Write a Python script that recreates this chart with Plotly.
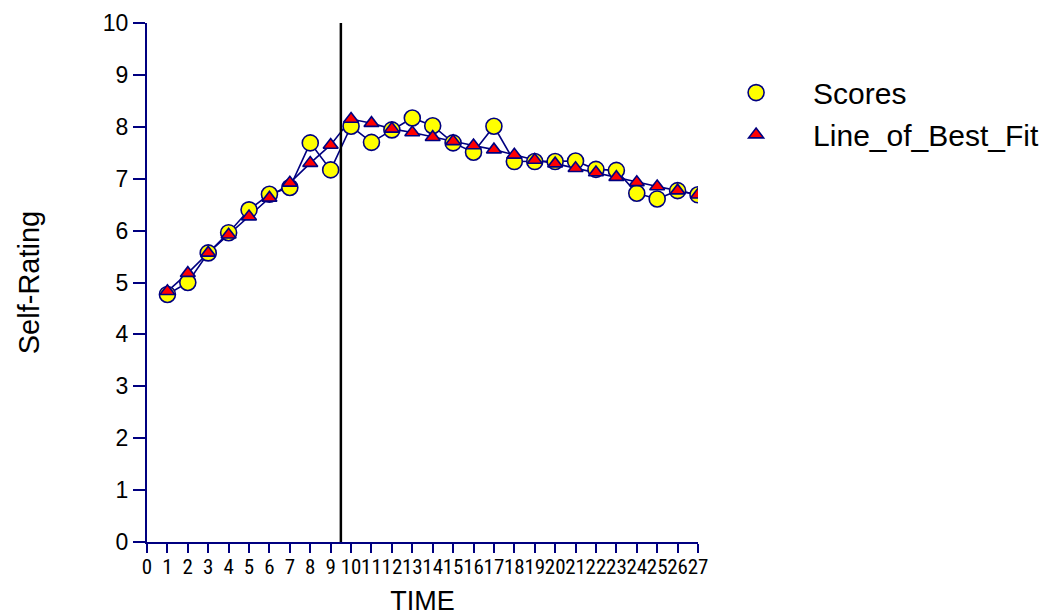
import plotly.graph_objects as go

# Session number and observed self-ratings
time_points = list(range(1, 28))
scores = [4.77, 5.00, 5.57, 5.96, 6.40, 6.70, 6.83, 7.69, 7.17,
          8.01, 7.70, 7.94, 8.17, 8.02, 7.69, 7.51, 8.01, 7.33,
          7.33, 7.33, 7.34, 7.18, 7.16, 6.72, 6.61, 6.77, 6.69]
# Piecewise fitted trend (baseline / intervention)
best_fit = [4.83, 5.18, 5.57, 5.92, 6.27, 6.63, 6.92, 7.30, 7.65,
            8.15, 8.07, 7.96, 7.89, 7.80, 7.72, 7.64, 7.56, 7.46,
            7.36, 7.29, 7.20, 7.12, 7.03, 6.93, 6.85, 6.77, 6.69]
phase_change = 9.5
x_ticks = list(range(0, 28))
y_ticks = list(range(0, 11))

NAVY = "#000080"
FONT = "Arial, Liberation Sans, sans-serif"
NARROW = "Liberation Sans Narrow, Arial Narrow, Roboto Condensed, Arial, sans-serif"

fig = go.Figure()
# Connecting lines (kept out of the legend)
for series in (scores, best_fit):
    fig.add_trace(go.Scatter(
        x=time_points, y=series, mode="lines", showlegend=False,
        hoverinfo="skip", line=dict(color=NAVY, width=1.6),
    ))
# Markers
fig.add_trace(go.Scatter(
    x=time_points, y=scores, name="Scores", mode="markers",
    marker=dict(symbol="circle", size=16, color="#FFFF00",
                line=dict(color=NAVY, width=1.6)),
))
fig.add_trace(go.Scatter(
    x=time_points, y=best_fit, name="Line_of_Best_Fit", mode="markers",
    marker=dict(symbol="triangle-up", size=13, color="#FF0000",
                line=dict(color=NAVY, width=1.6)),
))

# Phase-change line
fig.add_shape(type="line", xref="x", yref="y",
              x0=phase_change, x1=phase_change, y0=0, y1=10,
              line=dict(color="black", width=2.5))

fig.update_layout(
    width=1058, height=616,
    margin=dict(l=147, r=360, t=23, b=74, autoexpand=False),
    paper_bgcolor="white", plot_bgcolor="white",
    font=dict(family=FONT, color="black"),
    showlegend=True,
    legend=dict(x=1.002, y=0.916, xanchor="left", yanchor="top",
                font=dict(size=30, family=FONT), itemwidth=104,
                bgcolor="rgba(0,0,0,0)", tracegroupgap=0),
    xaxis=dict(
        range=[0, 27], tickvals=x_ticks, ticktext=[str(v) for v in x_ticks],
        tickangle=0, tickfont=dict(size=21, family=NARROW), automargin=False,
        ticklabelstandoff=-4,
        showgrid=False, zeroline=False,
        showline=True, linecolor=NAVY, linewidth=2,
        ticks="outside", ticklen=9, tickwidth=2, tickcolor=NAVY,
        title=dict(text="TIME", font=dict(size=27), standoff=22),
    ),
    yaxis=dict(
        range=[0, 10], tickvals=y_ticks, automargin=False,
        tickfont=dict(size=23),
        showgrid=False, zeroline=False,
        showline=True, linecolor=NAVY, linewidth=2,
        ticks="outside", ticklen=12, tickwidth=2, tickcolor=NAVY,
        title=dict(text="Self-Rating", font=dict(size=29), standoff=55),
    ),
)

fig.write_html("out.html")
